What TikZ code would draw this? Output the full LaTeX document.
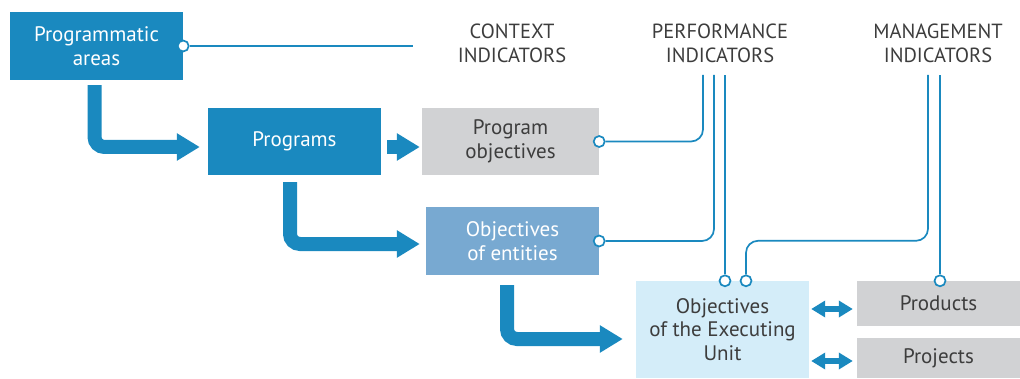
\documentclass[tikz,border=0pt]{standalone}
\usepackage{fontspec}
\setmainfont{PT Sans}
\usetikzlibrary{arrows.meta,calc}
\definecolor{deepblue}{RGB}{26,137,191}
\definecolor{midblue}{RGB}{120,169,209}
\definecolor{paleblue}{RGB}{212,237,249}
\definecolor{boxgrey}{RGB}{209,210,212}
\definecolor{textgrey}{RGB}{61,61,61}

\begin{document}
\begin{tikzpicture}[x=1pt,y=1pt,
   box/.style={rectangle,inner sep=0pt,align=center,font=\fontsize{21}{23.5}\selectfont},
   darkbox/.style={box,fill=deepblue,text=white},
   greybox/.style={box,fill=boxgrey,text=textgrey},
   head/.style={align=center,text=textgrey,font=\fontsize{20.5}{23.5}\selectfont},
   flow/.style={line width=14pt,deepblue,rounded corners=10pt,-{Triangle[length=23pt,width=26pt]}},
   duo/.style={line width=6pt,deepblue,{Triangle[length=14pt,width=16pt]}-{Triangle[length=14pt,width=16pt]}},
   wire/.style={line width=1.7pt,deepblue,rounded corners=12pt},
   dot/.style={circle,draw=deepblue,fill=white,line width=1.7pt,inner sep=0pt,minimum size=11pt}]

   \useasboundingbox (0,0) rectangle (1020,378);

   % boxes
   \node[darkbox,minimum width=173pt,minimum height=68pt] (areas) at (96.5,332) {Programmatic\\areas};
   \node[darkbox,minimum width=173pt,minimum height=67pt] (programs) at (294.5,236.5) {Programs};
   \node[greybox,minimum width=177pt,minimum height=67pt] (progobj) at (510.5,236.5) {Program\\objectives};
   \node[box,fill=midblue,text=white,minimum width=173pt,minimum height=68pt] (entities) at (512.5,137) {Objectives\\of entities};
   \node[box,fill=paleblue,text=textgrey,minimum width=173pt,minimum height=97pt] (unit) at (722.5,48.5) {Objectives\\of the Executing\\Unit};
   \node[greybox,minimum width=163pt,minimum height=45pt] (products) at (938.5,74.5) {Products};
   \node[greybox,minimum width=163pt,minimum height=40pt] (projects) at (938.5,20) {Projects};

   % indicator headings
   \node[head] (context) at (512,334.5) {CONTEXT\\INDICATORS};
   \node[head] (perf) at (720,334.5) {PERFORMANCE\\INDICATORS};
   \node[head] (mgmt) at (938,334.5) {MANAGEMENT\\INDICATORS};

   \path (413,332) coordinate (ctxend);
   \foreach \n/\x in {p1/703,p2/714,p3/725,m1/928,m2/940}
   {
      \path (\x,303) coordinate (\n);
   }

   % thick arrows
   \draw[flow] ([xshift=-2pt,yshift=-5pt]areas.south) |- ([xshift=-8pt,yshift=-5.5pt]programs.west);
   \draw[flow] ([xshift=6pt,yshift=-5.5pt]programs.east) -- ([xshift=-2pt,yshift=-5.5pt]progobj.west);
   \draw[flow] ([xshift=-4.5pt,yshift=-7pt]programs.south) |- ([xshift=-6pt,yshift=-3pt]entities.west);
   \draw[flow] ([xshift=-5.5pt,yshift=-10pt]entities.south) |- ([xshift=-13pt,yshift=-9.5pt]unit.west);

   \draw[duo] ($(unit.east |- products.west)+(2,-5.5)$) -- ($(products.west)+(-4,-5.5)$);
   \draw[duo] ($(unit.east |- projects.west)+(2,-3)$) -- ($(projects.west)+(-4,-3)$);

   % indicator wires
   \node[dot] (d1) at (areas.east) {};
   \node[dot] (d2) at (progobj.east) {};
   \node[dot] (d3) at (entities.east) {};
   \node[dot] (d4) at ([xshift=2.5pt]unit.north) {};
   \node[dot] (d5) at ([xshift=23.5pt]unit.north) {};
   \node[dot] (d6) at ([xshift=1.5pt]products.north) {};

   \draw[wire] (d1) -- (ctxend);
   \draw[wire] (d2) -| (p1);
   \draw[wire] (d3) -| (p2);
   \draw[wire] (d4) -- (p3);
   \draw[wire] (d5) -- ++(0,40) -| (m1);
   \draw[wire] (d6) -- (m2);
\end{tikzpicture}
\end{document}
